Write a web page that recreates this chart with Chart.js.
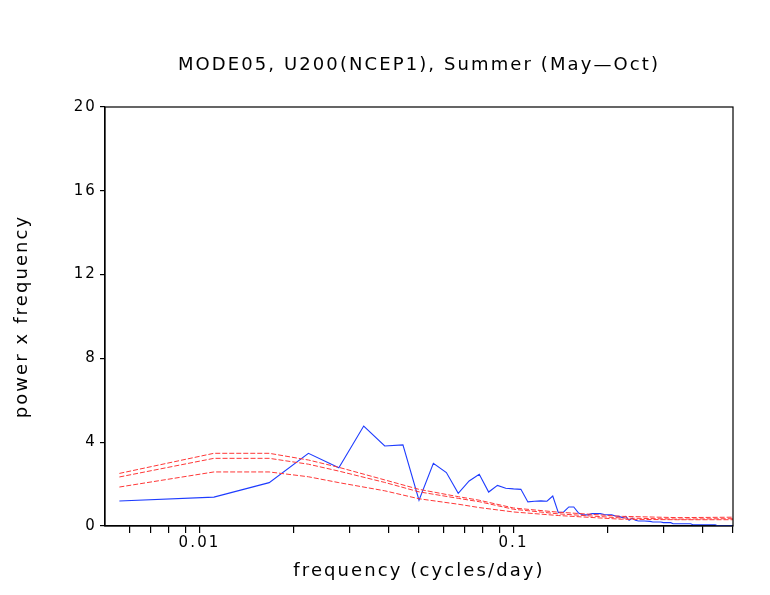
<!DOCTYPE html>
<html>
<head>
<meta charset="utf-8">
<script src="https://cdn.jsdelivr.net/npm/chart.js@4.4.1/dist/chart.umd.min.js"></script>
<style>
  html, body { margin: 0; padding: 0; background: #fff; }
  #wrap { width: 770px; height: 595px; }
</style>
</head>
<body>
<div id="wrap"><canvas id="spec"></canvas></div>
<script>
// record length in days; frequency = harmonic / nDays
const nDays = 180;

// spectrum (blue)
const blueHarm = [1, 2, 3, 4, 5, 6, 7, 8, 9, 10, 11, 12, 13, 14, 15, 16, 17, 18, 19, 20,
  21, 22, 23, 24, 25, 26, 27, 28, 29, 30, 31, 32, 33, 34, 35, 36, 37, 38, 39, 40,
  41, 42, 43, 44, 45, 47, 49, 50, 53, 54, 57, 58, 66, 67, 79, 80, 89, 90];
const blueVals = [1.19, 1.38, 2.07, 3.47, 2.78, 4.77, 3.82, 3.87, 1.23, 2.99, 2.55, 1.56, 2.15, 2.47, 1.62, 1.94, 1.80, 1.77, 1.75, 1.15,
  1.18, 1.20, 1.18, 1.43, 0.64, 0.67, 0.91, 0.91, 0.62, 0.53, 0.53, 0.59, 0.59, 0.59, 0.55, 0.53, 0.53, 0.48, 0.46, 0.40,
  0.46, 0.27, 0.37, 0.27, 0.24, 0.24, 0.22, 0.19, 0.19, 0.16, 0.16, 0.11, 0.11, 0.06, 0.06, 0.02, 0.02, 0.0];

// red-noise reference curves (red, dashed)
const redHarm = [1, 2, 3, 4, 5, 7, 9, 12, 14, 18, 25, 40, 60, 90];
const redUpper = [2.51, 3.47, 3.47, 3.15, 2.80, 2.20, 1.75, 1.40, 1.23, 0.86, 0.66, 0.46, 0.40, 0.42];
const redMiddle = [2.34, 3.23, 3.23, 2.95, 2.62, 2.08, 1.63, 1.32, 1.16, 0.80, 0.58, 0.38, 0.33, 0.35];
const redLower = [1.86, 2.58, 2.58, 2.35, 2.07, 1.68, 1.30, 1.04, 0.88, 0.67, 0.50, 0.32, 0.30, 0.30];

// axis ticks
const xTicks = [0.006, 0.007, 0.008, 0.009, 0.01, 0.02, 0.03, 0.04, 0.05, 0.06, 0.07, 0.08, 0.09, 0.1, 0.2, 0.3, 0.4, 0.5];
const xTickLabels = { 0.01: '0.01', 0.1: '0.1' };
const yTicks = [0, 4, 8, 12, 16, 20];

const titleText = 'MODE05, U200(NCEP1), Summer (May\u2014Oct)';

const pts = (harm, vals) => harm.map((k, i) => ({ x: k / nDays, y: vals[i] }));

const blue = 'rgb(30,60,255)';
const red = 'rgb(255,55,55)';
const fontFam = '"DejaVu Sans", sans-serif';
const spacing = '2.1px';

// wide letter spacing, frame box and centred title
const deco = {
  id: 'deco',
  beforeDraw(chart) {
    chart.ctx.letterSpacing = spacing;
  },
  afterDraw(chart) {
    const a = chart.chartArea;
    const c = chart.ctx;
    c.save();
    c.strokeStyle = '#000';
    c.lineWidth = 1.2;
    c.strokeRect(a.left, a.top, a.right - a.left, a.bottom - a.top);
    c.letterSpacing = spacing;
    c.fillStyle = '#000';
    c.font = '18px ' + fontFam;
    c.textAlign = 'center';
    c.textBaseline = 'alphabetic';
    c.fillText(titleText, (a.left + a.right) / 2, 70);
    c.restore();
  }
};

const redSet = (vals) => ({
  data: pts(redHarm, vals),
  borderColor: red,
  borderWidth: 1,
  borderDash: [5, 2],
  showLine: true,
  pointRadius: 0,
  tension: 0
});

new Chart(document.getElementById('spec'), {
  type: 'scatter',
  data: {
    datasets: [
      redSet(redUpper),
      redSet(redMiddle),
      redSet(redLower),
      {
        data: pts(blueHarm, blueVals),
        borderColor: blue,
        borderWidth: 1.1,
        showLine: true,
        pointRadius: 0,
        tension: 0
      }
    ]
  },
  options: {
    responsive: true,
    maintainAspectRatio: false,
    animation: false,
    layout: { padding: { left: 0, right: 37, top: 107, bottom: 0 } },
    plugins: {
      legend: { display: false },
      tooltip: { enabled: false },
      title: { display: false }
    },
    scales: {
      x: {
        type: 'logarithmic',
        min: 0.005,
        max: 0.5,
        afterBuildTicks: (s) => { s.ticks = xTicks.map(v => ({ value: v })); },
        afterFit: (s) => { s.height = 69; },
        ticks: {
          autoSkip: false,
          maxRotation: 0,
          color: '#000',
          padding: 1,
          font: { family: fontFam, size: 15 },
          callback: (v) => xTickLabels[v] || ''
        },
        grid: { drawOnChartArea: false, drawTicks: true, tickLength: 7, color: '#000', lineWidth: 1.2 },
        border: { display: true, color: '#000', width: 1.2 },
        title: {
          display: true,
          text: 'frequency (cycles/day)',
          color: '#000',
          font: { family: fontFam, size: 18 },
          padding: { top: 4, bottom: 13 }
        }
      },
      y: {
        min: 0,
        max: 20,
        afterBuildTicks: (s) => { s.ticks = yTicks.map(v => ({ value: v })); },
        afterFit: (s) => { s.width = 105; },
        ticks: {
          color: '#000',
          padding: 3,
          font: { family: fontFam, size: 15 }
        },
        grid: { drawOnChartArea: false, drawTicks: true, tickLength: 5, color: '#000', lineWidth: 1.2 },
        border: { display: true, color: '#000', width: 1.2 },
        title: {
          display: true,
          text: 'power x frequency',
          color: '#000',
          font: { family: fontFam, size: 18 },
          padding: { top: 12, bottom: 0 }
        }
      }
    }
  },
  plugins: [deco]
});
</script>
</body>
</html>
